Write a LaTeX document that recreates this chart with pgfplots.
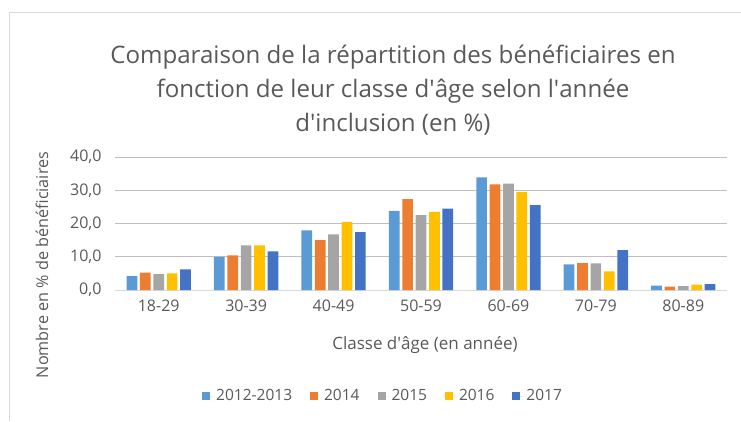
\documentclass[border=0pt]{standalone}
\usepackage{pgfplots}
\pgfplotsset{compat=1.18}
\usepackage{fontspec}
\setmainfont{Open Sans}
\definecolor{txt}{HTML}{595959}
\definecolor{grid}{HTML}{D9D9D9}
\definecolor{cA}{HTML}{5B9BD5}
\definecolor{cB}{HTML}{ED7D31}
\definecolor{cC}{HTML}{A5A5A5}
\definecolor{cD}{HTML}{FFC000}
\definecolor{cE}{HTML}{4472C4}

\begin{document}
\begin{tikzpicture}[x=1pt,y=1pt]
  \path[use as bounding box] (0,0) rectangle (741,421);
  \draw[grid, line width=0.8pt] (9,0) -- (9,409) -- (741,409);
  \node[txt, font=\fontsize{24.1}{34}\selectfont, align=center] at (393,331)
    {Comparaison de la répartition des bénéficiaires en\\fonction de leur classe d\textquotesingle âge selon l\textquotesingle année\\d\textquotesingle inclusion (en \%)};
  \node[txt, font=\fontsize{16.2}{18}\selectfont, rotate=90] at (42,156) {Nombre en \% de bénéficiaires};
  \node[txt, font=\fontsize{17}{20}\selectfont] at (425,76) {Classe d\textquotesingle âge (en année)};
  \begin{axis}[
      at={(115pt,131pt)}, anchor=south west,
      scale only axis, width=612pt, height=133pt,
      ybar=2.7pt, bar width=10.7pt,
      xmin=-0.5, xmax=6.5, ymin=0, ymax=40,
      xtick=data,
      xticklabels={18-29,30-39,40-49,50-59,60-69,70-79,80-89},
      ytick={0,10,20,30,40},
      yticklabel style={xshift=-10pt, /pgf/number format/fixed, /pgf/number format/fixed zerofill, /pgf/number format/precision=1, /pgf/number format/use comma, /pgf/number format/assume math mode=true},
      ymajorgrids, xmajorgrids=false, grid style={grid, line width=0.8pt},
      axis line style={draw=none},
      xtick style={draw=none}, ytick style={draw=none},
      major tick length=0pt,
      tick label style={txt, font=\fontsize{16}{18}\selectfont},
      xticklabel style={yshift=-6pt},
      legend columns=5,
      legend style={at={(0.438,-0.797)}, anchor=center, draw=none, fill=none,
        font=\fontsize{15.5}{18}\selectfont, text=txt,
        /tikz/every even column/.append style={column sep=16pt}},
      legend image code/.code={\fill[#1] (0pt,-4pt) rectangle (8pt,4pt); \path (0pt,0pt) -- (12pt,0pt);},
    ]
    \draw[grid, line width=0.8pt] (axis cs:-0.5,0) -- (axis cs:6.5,0);
    \addplot[fill=cA, draw=none] coordinates {(0,4.2) (1,10.0) (2,17.9) (3,23.8) (4,33.9) (5,7.7) (6,1.3)};
    \addplot[fill=cB, draw=none] coordinates {(0,5.2) (1,10.4) (2,15.0) (3,27.3) (4,31.8) (5,8.1) (6,1.0)};
    \addplot[fill=cC, draw=none] coordinates {(0,4.8) (1,13.4) (2,16.7) (3,22.5) (4,32.0) (5,8.0) (6,1.2)};
    \addplot[fill=cD, draw=none] coordinates {(0,5.0) (1,13.4) (2,20.5) (3,23.5) (4,29.5) (5,5.6) (6,1.6)};
    \addplot[fill=cE, draw=none] coordinates {(0,6.2) (1,11.6) (2,17.4) (3,24.5) (4,25.5) (5,12.0) (6,1.8)};
    \legend{2012-2013,2014,2015,2016,2017}
  \end{axis}
\end{tikzpicture}
\end{document}
